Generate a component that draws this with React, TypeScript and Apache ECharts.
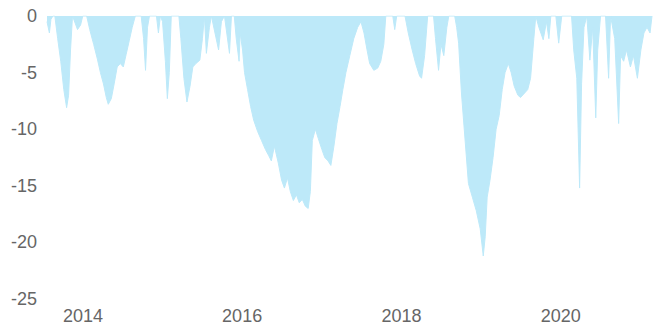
import React, { useEffect, useRef } from "react";
import * as echarts from "echarts";

const dates: string[] = [
  "2013-07-20", "2013-07-31", "2013-08-07", "2013-08-16", "2013-08-25", "2013-09-07", "2013-09-21", "2013-10-05",
  "2013-10-18", "2013-10-27", "2013-11-05", "2013-11-14", "2013-12-07", "2013-12-21", "2013-12-31",
  "2014-01-18", "2014-02-01", "2014-02-19", "2014-03-08", "2014-03-22", "2014-04-05", "2014-04-18", "2014-04-27",
  "2014-05-11", "2014-05-24", "2014-06-07", "2014-06-21", "2014-07-05", "2014-07-18", "2014-08-01", "2014-08-15",
  "2014-08-29", "2014-09-25", "2014-10-06", "2014-10-15", "2014-10-24", "2014-11-02", "2014-12-04", "2014-12-13",
  "2014-12-22", "2015-01-01", "2015-01-14", "2015-01-23", "2015-02-01", "2015-02-10", "2015-03-17", "2015-03-26",
  "2015-04-09", "2015-04-23", "2015-05-07", "2015-05-20", "2015-06-03", "2015-06-21", "2015-07-03", "2015-07-12",
  "2015-07-21", "2015-08-04", "2015-08-13", "2015-09-15", "2015-09-28", "2015-10-12", "2015-11-04", "2015-11-13",
  "2015-11-26", "2015-12-05", "2015-12-18", "2015-12-23", "2016-01-03", "2016-01-12", "2016-01-26", "2016-02-09",
  "2016-02-23", "2016-03-12", "2016-03-30", "2016-04-17", "2016-05-01", "2016-05-14", "2016-05-28", "2016-06-15",
  "2016-06-30", "2016-07-13", "2016-07-27", "2016-08-09", "2016-08-23", "2016-09-06", "2016-09-19", "2016-10-03",
  "2016-10-17", "2016-10-30", "2016-11-09", "2016-11-18", "2016-12-02", "2016-12-15", "2017-01-01", "2017-01-14",
  "2017-01-29", "2017-02-11", "2017-02-25", "2017-03-11", "2017-03-25", "2017-04-07", "2017-04-21", "2017-05-09",
  "2017-05-27", "2017-06-14", "2017-06-29", "2017-07-13", "2017-07-27", "2017-08-08", "2017-08-27", "2017-09-14",
  "2017-09-28", "2017-10-12", "2017-10-21", "2017-11-22", "2017-12-01", "2017-12-10", "2018-01-17", "2018-02-01",
  "2018-02-19", "2018-03-07", "2018-03-25", "2018-04-03", "2018-04-17", "2018-05-01", "2018-05-28", "2018-06-06",
  "2018-06-20", "2018-07-01", "2018-07-14", "2018-07-28", "2018-08-06", "2018-09-02", "2018-09-11", "2018-09-20",
  "2018-10-03", "2018-10-21", "2018-11-04", "2018-11-22", "2018-12-10", "2018-12-28", "2019-01-11", "2019-01-20",
  "2019-01-29", "2019-02-11", "2019-02-25", "2019-03-11", "2019-03-25", "2019-04-08", "2019-04-21", "2019-05-06",
  "2019-05-19", "2019-06-02", "2019-06-19", "2019-07-01", "2019-07-20", "2019-08-03", "2019-08-16", "2019-08-31",
  "2019-09-09", "2019-09-23", "2019-10-13", "2019-10-28", "2019-11-08", "2019-11-17", "2019-12-10", "2019-12-23",
  "2020-01-06", "2020-02-20", "2020-03-01", "2020-03-15", "2020-03-28", "2020-04-06", "2020-04-17", "2020-04-30",
  "2020-05-14", "2020-05-27", "2020-06-10", "2020-06-19", "2020-07-02", "2020-07-25", "2020-08-08", "2020-08-17",
  "2020-09-05", "2020-09-23", "2020-10-02", "2020-10-16", "2020-10-29", "2020-11-16", "2020-11-30", "2020-12-18",
  "2021-01-03", "2021-01-17", "2021-01-31", "2021-02-14", "2021-02-23",
];

const drawdown: number[] = [
  -0.5, -1.5, -0.3, 0, 0, -2, -4, -6.5,
  -8.1, -7, -3, 0, -1.2, -0.8, 0,
  0, -1.2, -2.5, -3.8, -5, -6, -7.2, -7.8,
  -7.3, -6, -4.5, -4.2, -4.5, -3.4, -2.2, -1,
  0, 0, -2, -4.8, -1, 0, 0, -1.5,
  0, -0.5, -4, -7.3, -5, 0, 0, -2,
  -5.5, -7.6, -6.2, -4.5, -4.2, -3.9, -2, 0,
  -3.3, -1, 0, -3, -0.5, 0, -3.3, 0,
  0, -2, -4, -1.5, -3, -5, -6.5, -8,
  -9.2, -10.2, -11, -11.8, -12.3, -12.8, -11.5, -13,
  -14.5, -15.2, -14.3, -15.5, -16.3, -15.8, -16.5, -16.2,
  -16.8, -17, -15.5, -11, -10, -10.8, -11.8, -12.5,
  -12.8, -13.2, -11.5, -9.5, -8, -6.5, -5, -3.5,
  -2, -1, -0.5, -1.5, -3, -4.2, -4.8, -4.6,
  -4, -2.5, 0, 0, -1.2, 0, 0, -1.5,
  -3, -4.2, -5.3, -5.5, -3.5, 0, 0, -2,
  -4.8, -2.5, -3.5, -1, 0, 0, -1, -2.4,
  -6.8, -11.3, -14.8, -16, -17.2, -18.8, -21.2, -19.5,
  -16, -14.5, -12.5, -10, -8.8, -6.5, -5, -4.2,
  -5, -6.2, -7, -7.2, -6.8, -6.5, -5.5, -2,
  0, -1, -2.1, -0.5, -2, 0, 0, -2.4,
  0, 0, -3, -5.5, -15.2, -6, -1, 0,
  -3.9, -1, -9, -3, 0, 0, -5.5, 0,
  -2, -9.5, -3.5, -4, -3, -4.5, -3.5, -5.5,
  -3, -1.5, -1, -1.5, 0,
];

const yTicks: number[] = [0, -5, -10, -15, -20, -25];

export default function App() {
  const ref = useRef<HTMLDivElement>(null);
  useEffect(() => {
    if (!ref.current) return;
    const chart = echarts.init(ref.current, undefined, { renderer: "svg" });
    const fill = "#bde9f9";
    chart.setOption({
      animation: false,
      grid: { left: 47, right: 4, top: 16, bottom: 31 },
      xAxis: {
        type: "time",
        min: "dataMin",
        max: "dataMax",
        axisLine: { show: false },
        axisTick: { show: false },
        splitLine: { show: false },
        axisLabel: {
          color: "#666",
          fontSize: 18,
          fontFamily: "Liberation Sans, Arial, sans-serif",
          margin: 8,
          hideOverlap: false,
          formatter: (val: number) => {
            const d = new Date(val);
            const y = d.getFullYear();
            if (d.getMonth() === 0 && d.getDate() === 1 && y % 2 === 0) return String(y);
            return "";
          },
        },
      },
      yAxis: {
        type: "value",
        min: yTicks[yTicks.length - 1],
        max: yTicks[0],
        interval: 5,
        axisLine: { show: false },
        axisTick: { show: false },
        splitLine: { show: false },
        axisLabel: {
          color: "#666",
          fontSize: 18,
          fontFamily: "Liberation Sans, Arial, sans-serif",
          margin: 10,
        },
      },
      series: [
        {
          type: "line",
          data: dates.map((d, i) => [d, drawdown[i]]),
          showSymbol: false,
          lineStyle: { color: fill, width: 1 },
          areaStyle: { color: fill, opacity: 1 },
          itemStyle: { color: fill },
        },
      ],
    });
    return () => chart.dispose();
  }, []);
  return (
    <div
      ref={ref}
      style={{ position: "absolute", left: 0, top: 0, width: 656, height: 330, background: "#fff" }}
    />
  );
}
